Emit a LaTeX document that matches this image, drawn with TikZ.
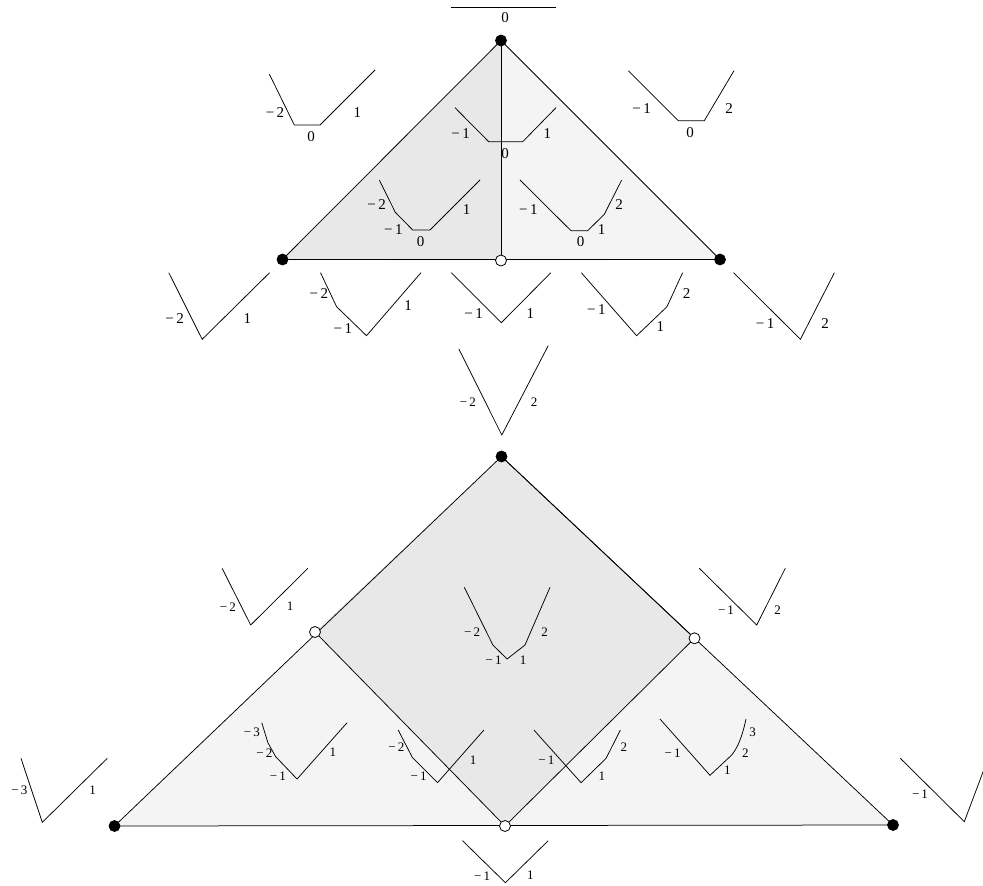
\documentclass[tikz,border=0pt]{standalone}
\usepackage{fontspec}
\setmainfont{Liberation Serif}
\definecolor{dk}{HTML}{E8E8E8}
\definecolor{lt}{HTML}{F4F4F4}
\newcommand{\mn}{−\,}
\begin{document}
\begin{tikzpicture}[x=1pt,y=-1pt,line width=0.75pt,
  blackdot/.style={circle,fill=black,draw=black,inner sep=0pt,minimum size=11pt},
  whitedot/.style={circle,fill=white,draw=black,line width=0.8pt,inner sep=0pt,minimum size=11pt},
  big/.style={font=\fontsize{15}{15}\selectfont,inner sep=0pt},
  sm/.style={font=\fontsize{13}{13}\selectfont,inner sep=0pt},
  glyph/.style={line width=0.75pt,line join=miter}]
\useasboundingbox (0,0) rectangle (983,886);
\clip (0,0) rectangle (983,886);
% ---------- top triangle ----------
\coordinate (TA) at (501,40.5);
\coordinate (TL) at (282.5,259.5);
\coordinate (TR) at (720,259.5);
\coordinate (TM) at (501,260.5);
\fill[dk] (TA)--(TL)--(TM)--cycle;
\fill[lt] (TA)--(TM)--(TR)--cycle;
\draw (TL)--(TA)--(TR)--cycle;
\draw (TA)--(TM);
\node[blackdot] (ta) at (TA) {};
\node[blackdot] (tl) at (TL) {};
\node[blackdot] (tr) at (TR) {};
\node[whitedot] (tm) at (TM) {};
% top bar
\draw[glyph] (451,7)--(556,7);
\node[big] at (505,18) {0};
% top-left outer
\draw[glyph] (269.3,74)--(294.3,125)--(320,125)--(375,70);
\node[big] at (275,112.7) {\mn2};
\node[big] at (311,136.7) {0};
\node[big] at (357.3,112.7) {1};
% top center
\draw[glyph] (455,107.7)--(488.7,141.7)--(522.7,141.7)--(556,107.7);
\node[big] at (460.7,133.3) {\mn1};
\node[big] at (547.3,133.3) {1};
\node[big] at (505,154) {0};
% top-right outer
\draw[glyph] (628.3,70.7)--(678.3,120.7)--(704.3,120.7)--(734,70.7);
\node[big] at (641.7,108.3) {\mn1};
\node[big] at (729,108.3) {2};
\node[big] at (690,132.7) {0};
% left inner
\draw[glyph] (379.3,180)--(395.3,212.3)--(412.7,230)--(430,230)--(480,180);
\node[big] at (376.7,205) {\mn2};
\node[big] at (393.3,230) {\mn1};
\node[big] at (420.7,241.7) {0};
\node[big] at (466.7,209.3) {1};
% right inner
\draw[glyph] (520,180)--(571,230.7)--(587.7,230.7)--(604.3,214.3)--(621.7,180);
\node[big] at (528.3,209.3) {\mn1};
\node[big] at (580.7,241.7) {0};
\node[big] at (601.7,230) {1};
\node[big] at (619,205) {2};
% row of five under top triangle
\draw[glyph] (168.8,272.7)--(202.2,339.3)--(269.6,272.7);
\node[big] at (174.6,319) {\mn2};
\node[big] at (247.3,318.3) {1};
\draw[glyph] (320.5,272.7)--(336.6,306.7)--(366.5,335.7)--(421,272.7);
\node[big] at (318.8,293.3) {\mn2};
\node[big] at (342.9,328.3) {\mn1};
\node[big] at (408,306) {1};
\draw[glyph] (451.3,272.7)--(501.3,322.7)--(550.9,272.7);
\node[big] at (473.7,314) {\mn1};
\node[big] at (530.4,314) {1};
\draw[glyph] (581.3,272.7)--(636.6,335.7)--(667,306.7)--(682.6,272.7);
\node[big] at (596.4,310) {\mn1};
\node[big] at (660.3,326.7) {1};
\node[big] at (686.6,293.3) {2};
\draw[glyph] (733.5,272.7)--(800.4,339.3)--(834.4,272.7);
\node[big] at (765.2,323.3) {\mn1};
\node[big] at (825,323.3) {2};
% middle V
\draw[glyph] (458.9,349)--(501.8,435)--(548.2,345.7);
\node[sm] at (467.9,402.3) {\mn2};
\node[sm] at (534,401.7) {2};
% ---------- lower figure ----------
\coordinate (LA) at (501.5,456.5);
\coordinate (LL) at (114.5,826);
\coordinate (LR) at (893,825);
\coordinate (LCl) at (315,632);
\coordinate (LCr) at (694.5,638.3);
\coordinate (LCb) at (505,826);
\fill[lt] (LA)--(LL)--(LR)--cycle;
\fill[dk] (LA)--(LCl)--(LCb)--(LCr)--cycle;
\draw (LA)--(LL)--(LR)--cycle;
\draw (LCl)--(LCb)--(LCr)--(LA);
\node[blackdot] (la) at (LA) {};
\node[blackdot] (ll) at (LL) {};
\node[blackdot] (lr) at (LR) {};
\node[whitedot] (lcl) at (LCl) {};
\node[whitedot] (lcr) at (LCr) {};
\node[whitedot] (lcb) at (LCb) {};
% outer left upper
\draw[glyph] (222.1,568.3)--(250.7,625)--(307.9,568.3);
\node[sm] at (227.9,606.7) {\mn2};
\node[sm] at (290,606.7) {1};
% outer right upper
\draw[glyph] (699.3,568.3)--(756.7,625)--(785.3,568.3);
\node[sm] at (726,610) {\mn1};
\node[sm] at (777.7,610) {2};
% square center
\draw[glyph] (464.3,587.3)--(492.9,645)--(507.1,659)--(525,645)--(550,587.3);
\node[sm] at (472.1,631.7) {\mn2};
\node[sm] at (544.6,631.7) {2};
\node[sm] at (493.6,660.7) {\mn1};
\node[sm] at (523.2,660.7) {1};
% lower inner I
\draw[glyph] (261.8,722.7)--(267.9,742.7)--(275.7,756.7)--(297.1,779)--(347.1,722.7);
\node[sm] at (251.8,732.3) {\mn3};
\node[sm] at (264.3,753.3) {\mn2};
\node[sm] at (277.9,776) {\mn1};
\node[sm] at (332.9,752.7) {1};
% lower inner J
\draw[glyph] (398.2,730)--(412.5,757.7)--(437.5,782.7)--(483.9,730);
\node[sm] at (396.4,747.3) {\mn2};
\node[sm] at (418.6,776) {\mn1};
\node[sm] at (473.2,760) {1};
% lower inner K
\draw[glyph] (533.9,730)--(581.1,782.7)--(606.1,758.3)--(620.4,730);
\node[sm] at (546.4,760) {\mn1};
\node[sm] at (601.8,776) {1};
\node[sm] at (623.9,746.7) {2};
% lower inner L
\draw[glyph] (660,719)--(710,775.3)--(731.7,755) .. controls (739,746) and (743,733) .. (746,719);
\node[sm] at (672.7,753.3) {\mn1};
\node[sm] at (727.3,770.7) {1};
\node[sm] at (745.3,753.3) {2};
\node[sm] at (752.7,732.7) {3};
% far left
\draw[glyph] (21,758.3)--(42.3,822.3)--(107.3,758.3);
\node[sm] at (19.3,790) {\mn3};
\node[sm] at (92.7,790) {1};
% far right
\draw[glyph] (900.3,758.3)--(964.3,821.7)--(992,748);
\node[sm] at (920,794) {\mn1};
% bottom
\draw[glyph] (462.5,840.7)--(505.4,882.7)--(548.2,840.7);
\node[sm] at (482.1,876) {\mn1};
\node[sm] at (530.4,875) {1};
\end{tikzpicture}
\end{document}
